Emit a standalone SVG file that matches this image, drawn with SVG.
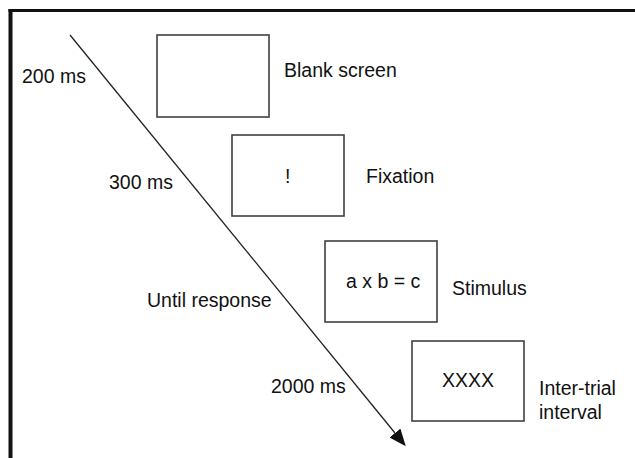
<svg xmlns="http://www.w3.org/2000/svg" width="635" height="458" viewBox="0 0 635 458">
  <style>
    .box { fill: #ffffff; stroke: #404040; stroke-width: 1.6; }
    .lbl { font-family: "Liberation Sans", Arial, sans-serif; font-size: 19.5px; fill: #111111; }
    .frame { stroke: #111111; fill: none; }
    .conn { stroke: #222222; stroke-width: 1.3; fill: none; }
  </style>
  <defs>
    <marker id="arrowhead" markerUnits="userSpaceOnUse" markerWidth="18" markerHeight="14" refX="0" refY="7" orient="auto">
      <polygon points="0,0 17,7 0,14" fill="#111111"/>
    </marker>
  </defs>
  <rect x="0" y="0" width="635" height="458" fill="#ffffff"/>
  <g id="frame">
    <line class="frame" x1="8.5" y1="10.5" x2="635" y2="10.5" stroke-width="3"/>
    <line class="frame" x1="10.5" y1="9" x2="10.5" y2="458" stroke-width="4"/>
  </g>
  <g id="connectors">
    <line class="conn" x1="70" y1="35" x2="395" y2="433" marker-end="url(#arrowhead)"/>
  </g>
  <g id="blank">
    <rect class="box" x="157" y="35" width="112" height="82"/>
    <text class="lbl" x="284" y="77">Blank screen</text>
  </g>
  <g id="fixation">
    <rect class="box" x="232" y="135" width="112" height="81"/>
    <text class="lbl" x="285" y="183">!</text>
    <text class="lbl" x="366" y="183">Fixation</text>
  </g>
  <g id="stimulus">
    <rect class="box" x="325" y="241" width="112" height="81"/>
    <text class="lbl" x="346" y="288">a x b = c</text>
    <text class="lbl" x="452" y="295">Stimulus</text>
  </g>
  <g id="iti">
    <rect class="box" x="412" y="341" width="112" height="80"/>
    <text class="lbl" x="442" y="387">XXXX</text>
    <text class="lbl" x="539" y="395">Inter-trial</text>
    <text class="lbl" x="539" y="419">interval</text>
  </g>
  <g id="durations">
    <text class="lbl" x="22" y="83">200 ms</text>
    <text class="lbl" x="109" y="189">300 ms</text>
    <text class="lbl" x="147" y="307">Until response</text>
    <text class="lbl" x="271" y="393">2000 ms</text>
  </g>
</svg>
